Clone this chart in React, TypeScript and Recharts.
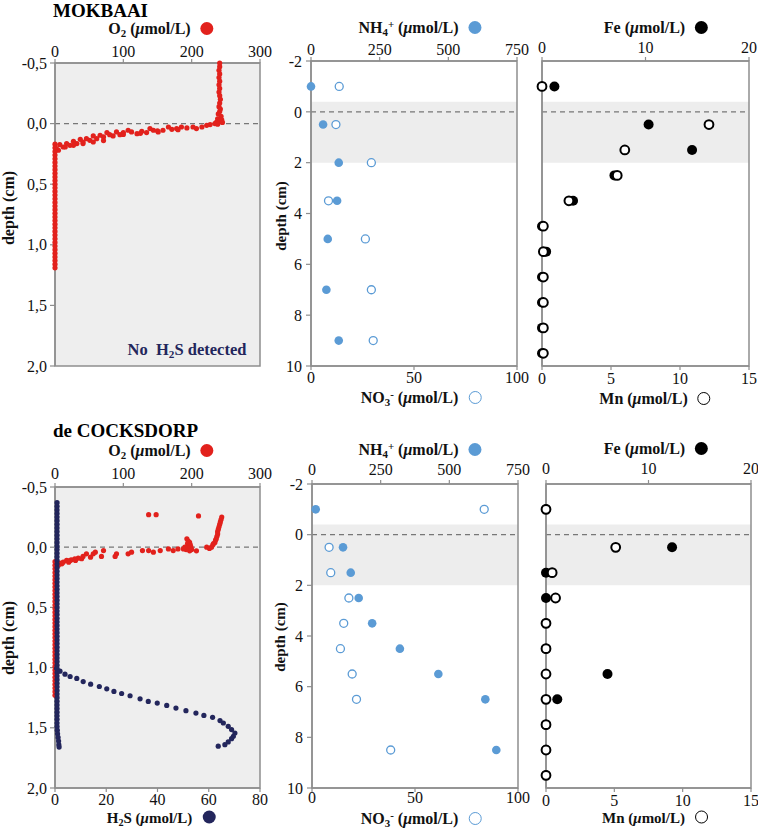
import React from "react";
import { ReferenceArea, ReferenceLine, Scatter, ScatterChart, XAxis, YAxis } from "recharts";

type Pt = [number, number]; // [concentration, depth]

const FONT = '"Liberation Serif", "Times New Roman", serif';
const AXIS = "#8e8e8e";
const RED = "#e2211c";
const NAVY = "#23265c";
const BLUE = "#5b9bd5";
const SHADE = "#ededed";

// ---- axis ticks ----
const o2Ticks = [0, 100, 200, 300];
const h2sTicks = [0, 20, 40, 60, 80];
const microDepthTicks = [-0.5, 0, 0.5, 1, 1.5, 2];
const coreDepthTicks = [-2, 0, 2, 4, 6, 8, 10];
const nh4Ticks = [0, 250, 500, 750];
const no3Ticks = [0, 50, 100];
const feTicks = [0, 10, 20];
const mnTicks = [0, 5, 10, 15];

// ---- MOKBAAI: O2 microprofiles [O2 µmol/L, depth cm] ----
const mokO2Water: Pt[] = [
  [241, -0.5], [241, -0.47], [240, -0.44], [241, -0.41], [240, -0.38], [241, -0.35], [240, -0.32],
  [241, -0.29], [240, -0.26], [241, -0.23], [242, -0.2], [241, -0.17], [240, -0.14], [242, -0.12],
  [241, -0.1], [239, -0.08], [243, -0.06], [238, -0.04], [244, -0.03], [241, -0.02], [236, -0.01], [245, -0.01],
];
const mokO2Transition: Pt[] = [
  [234, 0], [238, 0.005], [227, 0.008], [222, 0.014], [215, 0.028], [207, 0.041], [202, 0.028], [193, 0.036],
  [185, 0.028], [178, 0.041], [171, 0.047], [166, 0.028], [158, 0.055], [151, 0.069], [144, 0.055], [139, 0.041],
  [134, 0.074], [127, 0.063], [120, 0.083], [112, 0.069], [107, 0.055], [100, 0.074], [95, 0.091], [90, 0.069],
  [85, 0.102], [80, 0.091], [76, 0.074], [71, 0.11], [66, 0.096], [61, 0.124], [56, 0.102], [51, 0.138],
  [46, 0.124], [41, 0.152], [37, 0.13], [32, 0.165], [27, 0.146], [22, 0.179], [17, 0.165], [12, 0.193],
  [7, 0.174], [2, 0.207], [71, 0.14], [56, 0.152], [41, 0.165], [27, 0.179], [15, 0.193], [5, 0.22],
  [180, 0.05], [150, 0.06], [125, 0.08], [100, 0.09],
];
const mokO2Anoxic: Pt[] = [
  [0, 0.17], [0, 0.2], [0, 0.23], [0, 0.26], [0, 0.29], [0, 0.32], [0, 0.35], [0, 0.38], [0, 0.41], [0, 0.44],
  [0, 0.47], [0, 0.5], [0, 0.53], [0, 0.56], [0, 0.59], [0, 0.62], [0, 0.65], [0, 0.68], [0, 0.71], [0, 0.74],
  [0, 0.77], [0, 0.8], [0, 0.83], [0, 0.86], [0, 0.89], [0, 0.92], [0, 0.95], [0, 0.98], [0, 1.01], [0, 1.04],
  [0, 1.07], [0, 1.1], [0, 1.13], [0, 1.16], [0, 1.19],
];

// ---- de COCKSDORP: O2 and H2S microprofiles ----
const cockO2Water: Pt[] = [
  [137, -0.27], [148, -0.27], [210, -0.26],
  [244, -0.25], [243, -0.23], [242, -0.21], [241, -0.19], [240, -0.17], [239, -0.15], [238, -0.13], [238, -0.11],
  [237, -0.09], [236, -0.07], [235, -0.06], [234, -0.04], [232, -0.03], [231, -0.02], [229, 0], [226, 0.01], [222, 0],
  [193, -0.07], [195, -0.05], [197, -0.04], [194, -0.03], [198, -0.02], [196, -0.01], [193, 0], [199, 0],
  [195, 0.01], [200, 0.02], [197, 0.03], [207, 0.03], [192, 0.02], [190, 0],
];
const cockO2Transition: Pt[] = [
  [188, 0.014], [180, 0.014], [173, 0.028], [166, 0.014], [154, 0.028], [144, 0.041], [137, 0.028], [128, 0.028],
  [112, 0.041], [107, 0.055], [90, 0.055], [88, 0.077], [71, 0.028], [68, 0.077], [59, 0.041], [56, 0.055],
  [52, 0.083], [46, 0.055], [41, 0.077], [39, 0.096], [34, 0.091], [29, 0.096], [24, 0.105], [22, 0.11],
  [17, 0.11], [12, 0.124], [7, 0.132], [2, 0.138], [30, 0.11], [20, 0.124], [10, 0.138], [5, 0.15],
];
const cockO2Anoxic: Pt[] = [
  [0, 0.12], [0, 0.15], [0, 0.18], [0, 0.21], [0, 0.24], [0, 0.27], [0, 0.3], [0, 0.33], [0, 0.36], [0, 0.39],
  [0, 0.42], [0, 0.45], [0, 0.48], [0, 0.51], [0, 0.54], [0, 0.57], [0, 0.6], [0, 0.63], [0, 0.66], [0, 0.69],
  [0, 0.72], [0, 0.75], [0, 0.78], [0, 0.81], [0, 0.84], [0, 0.87], [0, 0.9], [0, 0.93], [0, 0.96], [0, 0.99],
  [0, 1.02], [0, 1.05], [0, 1.08], [0, 1.11], [0, 1.14], [0, 1.17], [0, 1.2], [0, 1.23],
];
const cockH2SCastA: Pt[] = [
  [0.8, -0.37], [0.8, -0.34], [0.8, -0.31], [0.8, -0.28], [0.8, -0.25], [0.8, -0.22], [0.8, -0.19], [0.8, -0.16],
  [0.8, -0.13], [0.8, -0.1], [0.8, -0.07], [0.8, -0.04], [0.8, -0.01], [0.8, 0.02], [0.8, 0.05], [0.8, 0.08],
  [0.8, 0.11], [0.8, 0.14], [0.8, 0.17], [0.8, 0.2], [0.8, 0.23], [0.8, 0.26], [0.8, 0.29], [0.8, 0.32],
  [0.8, 0.35], [0.8, 0.38], [0.8, 0.41], [0.8, 0.44], [0.8, 0.47], [0.8, 0.5], [0.8, 0.53], [0.8, 0.56],
  [0.8, 0.59], [0.8, 0.62], [0.8, 0.65], [0.8, 0.68], [0.8, 0.71], [0.8, 0.74], [0.8, 0.77], [0.8, 0.8],
  [0.8, 0.83], [0.8, 0.86], [0.8, 0.89], [0.8, 0.92], [0.8, 0.95], [0.8, 0.98], [0.8, 1.01], [0.8, 1.04],
  [0.8, 1.07], [0.8, 1.1], [0.8, 1.13], [0.8, 1.16], [0.8, 1.19], [0.8, 1.22], [0.8, 1.25], [0.8, 1.28],
  [0.8, 1.31], [0.8, 1.34], [0.8, 1.37], [0.8, 1.4], [0.8, 1.43], [0.8, 1.46], [0.8, 1.49], [0.9, 1.52],
  [1.0, 1.55], [1.2, 1.58], [1.4, 1.61], [1.5, 1.64], [1.6, 1.66],
];
const cockH2SCastB: Pt[] = [
  [0.65, 1.006], [1.95, 1.03], [3.9, 1.055], [5.9, 1.074], [8.5, 1.09], [11, 1.116], [13.9, 1.138], [17.3, 1.157],
  [20.2, 1.176], [23, 1.198], [26, 1.215], [29.3, 1.234], [33.2, 1.259], [36.4, 1.281], [39.9, 1.295],
  [43.6, 1.314], [47.2, 1.336], [51.1, 1.358], [55, 1.378], [58.1, 1.397], [61.5, 1.413], [64.4, 1.44],
  [65.7, 1.46], [67.6, 1.488], [68.9, 1.515], [70.2, 1.543], [69.6, 1.57], [68.9, 1.59], [67.6, 1.617],
  [66.3, 1.64], [63.7, 1.653],
];

// ---- porewater (core slices) ----
const mokNDepth = [-1, 0.5, 2, 3.5, 5, 7, 9];
const mokNH4 = [0, 44, 101, 95, 61, 56, 101];
const mokNO3 = [13.7, 12.1, 29.3, 8.5, 26.4, 29.3, 30.2];

const mokMetalDepth = [-1, 0.5, 1.5, 2.5, 3.5, 4.5, 5.5, 6.5, 7.5, 8.5, 9.5];
const mokFe = [1.2, 10.3, 14.5, 7.0, 3.0, 0, 0.4, 0, 0, 0, 0];
const mokMn = [0, 12.1, 6.0, 5.45, 1.95, 0.1, 0.1, 0.1, 0.1, 0.1, 0.1];

const cockNDepth = [-1, 0.5, 1.5, 2.5, 3.5, 4.5, 5.5, 6.5, 8.5];
const cockNH4 = [13.5, 113, 141, 170, 219, 320, 460, 631, 671];
const cockNO3 = [83.6, 8.3, 9.1, 17.9, 15.4, 13.8, 19.5, 21.6, 38.2];

const cockMetalDepth = [-1, 0.5, 1.5, 2.5, 3.5, 4.5, 5.5, 6.5, 7.5, 8.5, 9.5];
const cockFe = [0, 12.3, 0, 0, 0, 0, 6.0, 1.1, 0, 0, 0];
const cockMn = [0, 5.1, 0.45, 0.7, 0, 0, 0, 0, 0, 0, 0];

const pairs = (pts: Pt[]) => pts.map(([x, y]) => ({ x, y }));
const column = (vals: number[], depths: number[]) => vals.map((x, i) => ({ x, y: depths[i] }));
const comma = (v: number) => v.toFixed(1).replace(".", ",");

const dot = (r: number, fill: string, stroke = "none", sw = 0) => (p: any) =>
  <circle cx={p.cx} cy={p.cy} r={r} fill={fill} stroke={stroke} strokeWidth={sw} />;

const tickStyle = { fill: "#111", fontSize: 16, fontFamily: FONT };
const axisLine = { stroke: AXIS, strokeWidth: 1.5 };
const tickLine = { stroke: AXIS, strokeWidth: 1.2 };

function MicroPanel({ top, height, margin, o2, h2s, topGap, bottomGap = 6 }: any) {
  return (
    <div style={{ position: "absolute", left: 0, top }}>
      <ScatterChart width={280} height={height} margin={margin}>
        <XAxis xAxisId="o2" orientation="top" type="number" dataKey="x" domain={[0, 300]} ticks={o2Ticks}
          interval={0} height={23} tick={tickStyle} axisLine={axisLine} tickLine={tickLine} tickSize={4} tickMargin={topGap - 4} />
        {h2s && (
          <XAxis xAxisId="h2s" orientation="bottom" type="number" dataKey="x" domain={[0, 80]} ticks={h2sTicks}
            interval={0} height={22} tick={tickStyle} axisLine={axisLine} tickLine={tickLine} tickSize={4} tickMargin={bottomGap - 4} />
        )}
        <YAxis yAxisId="d" type="number" dataKey="y" domain={[-0.5, 2]} reversed ticks={microDepthTicks} interval={0}
          width={55} tick={tickStyle} tickFormatter={comma} axisLine={axisLine} tickLine={tickLine} tickSize={5} tickMargin={3} />
        {h2s && (
          <YAxis yAxisId="r" orientation="right" type="number" dataKey="y" domain={[-0.5, 2]} reversed ticks={microDepthTicks}
            width={0} tick={false} axisLine={false} tickLine={tickLine} tickSize={4} />
        )}
        <ReferenceArea xAxisId="o2" yAxisId="d" x1={0} x2={300} y1={-0.5} y2={2} fill="#eeeeee" fillOpacity={1}
          stroke={AXIS} strokeWidth={1.5} />
        <ReferenceLine xAxisId="o2" yAxisId="d" y={0} stroke="#777" strokeDasharray="5 4" strokeWidth={1.3} />
        {o2.map((pts: Pt[], i: number) => (
          <Scatter key={"o" + i} xAxisId="o2" yAxisId="d" data={pairs(pts)} shape={dot(2.6, RED)} isAnimationActive={false} />
        ))}
        {h2s && h2s.map((pts: Pt[], i: number) => (
          <Scatter key={"h" + i} xAxisId="h2s" yAxisId="d" data={pairs(pts)} shape={dot(2.6, NAVY)} isAnimationActive={false} />
        ))}
      </ScatterChart>
    </div>
  );
}

function PorePanel(props: any) {
  const { left, top, width, height, margin, yWidth, showDepth, topMax, topTicks, bottomMax, bottomTicks,
    topData, bottomData, topShape, bottomShape, topGap, bottomGap } = props;
  return (
    <div style={{ position: "absolute", left, top }}>
      <ScatterChart width={width} height={height} margin={margin}>
        <XAxis xAxisId="t" orientation="top" type="number" dataKey="x" domain={[0, topMax]} ticks={topTicks}
          interval={0} height={23} tick={tickStyle} axisLine={axisLine} tickLine={tickLine} tickSize={4} tickMargin={topGap - 4} />
        <XAxis xAxisId="b" orientation="bottom" type="number" dataKey="x" domain={[0, bottomMax]} ticks={bottomTicks}
          interval={0} height={22} tick={tickStyle} axisLine={axisLine} tickLine={tickLine} tickSize={4} tickMargin={Math.max(bottomGap - 4, 0)} />
        <YAxis yAxisId="d" type="number" dataKey="y" domain={[-2, 10]} reversed ticks={coreDepthTicks} interval={0}
          width={yWidth} tick={showDepth ? tickStyle : false} axisLine={axisLine} tickLine={tickLine} tickSize={5} tickMargin={4} />
        <ReferenceArea xAxisId="t" yAxisId="d" x1={0} x2={topMax} y1={-0.4} y2={2} fill={SHADE} fillOpacity={1} stroke="none" />
        <ReferenceArea xAxisId="t" yAxisId="d" x1={0} x2={topMax} y1={-2} y2={10} fill="none" stroke={AXIS} strokeWidth={1.5} />
        <ReferenceLine xAxisId="t" yAxisId="d" y={0} stroke="#777" strokeDasharray="5 4" strokeWidth={1.3} />
        <Scatter xAxisId="t" yAxisId="d" data={topData} shape={topShape} isAnimationActive={false} />
        <Scatter xAxisId="b" yAxisId="d" data={bottomData} shape={bottomShape} isAnimationActive={false} />
      </ScatterChart>
    </div>
  );
}

function Label({ x, y, children, size = 16, color = "#111", rotate = false }: any) {
  return (
    <div
      style={{
        position: "absolute", left: x, top: y, whiteSpace: "nowrap", lineHeight: 1,
        transform: `translate(-50%, -50%)${rotate ? " rotate(-90deg)" : ""}`,
        fontFamily: FONT, fontWeight: 700, fontSize: size, color,
      }}
    >
      {children}
    </div>
  );
}

const sub = { fontSize: "0.68em", verticalAlign: "-0.3em", lineHeight: 0 };
const sup = { fontSize: "0.68em", verticalAlign: "0.45em", lineHeight: 0 };
const unit = <>(<i>μ</i>mol/L)</>;

function Marker({ fill, stroke }: { fill: string; stroke?: string }) {
  return (
    <span
      style={{
        display: "inline-block", width: 13, height: 13, borderRadius: "50%", marginLeft: 10,
        verticalAlign: "-1px", background: fill, boxSizing: "border-box",
        border: stroke ? `1.5px solid ${stroke}` : "none",
      }}
    />
  );
}

export default function App() {
  const o2Title = <>O<span style={sub}>2</span> {unit}<Marker fill={RED} /></>;
  const nh4Title = <>NH<span style={sub}>4</span><span style={sup}>+</span> {unit}<Marker fill={BLUE} /></>;
  const no3Title = <>NO<span style={sub}>3</span><span style={sup}>-</span> {unit}<Marker fill="#fff" stroke={BLUE} /></>;
  const feTitle = <>Fe {unit}<Marker fill="#000" /></>;
  const mnTitle = <>Mn {unit}<Marker fill="#fff" stroke="#000" /></>;

  return (
    <div style={{ position: "absolute", left: 0, top: 0, width: 758, height: 831, background: "#fff", overflow: "hidden" }}>
      {/* MOKBAAI */}
      <MicroPanel top={0} height={380} margin={{ top: 40, right: 20, bottom: 14, left: 0 }}
        o2={[mokO2Water, mokO2Transition, mokO2Anoxic]} topGap={6} />
      <PorePanel left={270} top={0} width={270} height={392} margin={{ top: 38, right: 23, bottom: 4, left: 0 }}
        yWidth={41} showDepth topMax={750} topTicks={nh4Ticks} bottomMax={100} bottomTicks={no3Ticks}
        topData={column(mokNH4, mokNDepth)} bottomData={column(mokNO3, mokNDepth)}
        topShape={dot(4.3, BLUE)} bottomShape={dot(4, "#fff", BLUE, 1.3)} topGap={6} bottomGap={6} />
      <PorePanel left={500} top={0} width={258} height={392} margin={{ top: 38, right: 9, bottom: 4, left: 0 }}
        yWidth={42} showDepth={false} topMax={20} topTicks={feTicks} bottomMax={15} bottomTicks={mnTicks}
        topData={column(mokFe, mokMetalDepth)} bottomData={column(mokMn, mokMetalDepth)}
        topShape={dot(5, "#000")} bottomShape={dot(4.4, "#fff", "#000", 2)} topGap={8} bottomGap={7} />

      {/* de COCKSDORP */}
      <MicroPanel top={420} height={411} margin={{ top: 44, right: 20, bottom: 21, left: 0 }}
        o2={[cockO2Water, cockO2Transition, cockO2Anoxic]} h2s={[cockH2SCastA, cockH2SCastB]} topGap={8} bottomGap={6} />
      <PorePanel left={270} top={420} width={270} height={411} margin={{ top: 41, right: 22, bottom: 21, left: 0 }}
        yWidth={42} showDepth topMax={750} topTicks={nh4Ticks} bottomMax={100} bottomTicks={no3Ticks}
        topData={column(cockNH4, cockNDepth)} bottomData={column(cockNO3, cockNDepth)}
        topShape={dot(4.3, BLUE)} bottomShape={dot(4, "#fff", BLUE, 1.3)} topGap={9} bottomGap={3} />
      <PorePanel left={500} top={420} width={258} height={411} margin={{ top: 41, right: 7, bottom: 21, left: 0 }}
        yWidth={46} showDepth={false} topMax={20} topTicks={feTicks} bottomMax={15} bottomTicks={mnTicks}
        topData={column(cockFe, cockMetalDepth)} bottomData={column(cockMn, cockMetalDepth)}
        topShape={dot(5, "#000")} bottomShape={dot(4.4, "#fff", "#000", 2)} topGap={10} bottomGap={7} />

      {/* titles and axis labels */}
      <div style={{ position: "absolute", left: 53, top: 1, fontFamily: FONT, fontWeight: 700, fontSize: 19, lineHeight: 1.1 }}>MOKBAAI</div>
      <div style={{ position: "absolute", left: 53, top: 421, fontFamily: FONT, fontWeight: 700, fontSize: 19, lineHeight: 1.1 }}>de COCKSDORP</div>

      <Label x={161} y={29}>{o2Title}</Label>
      <Label x={420} y={28}>{nh4Title}</Label>
      <Label x={656} y={28}>{feTitle}</Label>
      <Label x={421} y={398}>{no3Title}</Label>
      <Label x={655} y={399}>{mnTitle}</Label>
      <Label x={187} y={350} size={16.5} color={NAVY}>No&nbsp; H<span style={sub}>2</span>S detected</Label>

      <Label x={161} y={451}>{o2Title}</Label>
      <Label x={420} y={450}>{nh4Title}</Label>
      <Label x={656} y={449}>{feTitle}</Label>
      <Label x={421} y={819}>{no3Title}</Label>
      <Label x={655} y={818} size={15}>{mnTitle}</Label>
      <Label x={161} y={818} size={15}>H<span style={sub}>2</span>S {unit}<Marker fill={NAVY} /></Label>

      <Label x={9} y={208} rotate>depth (cm)</Label>
      <Label x={281} y={216} rotate size={15}>depth (cm)</Label>
      <Label x={9} y={638} rotate>depth (cm)</Label>
      <Label x={280} y={637} rotate size={15}>depth (cm)</Label>
    </div>
  );
}
